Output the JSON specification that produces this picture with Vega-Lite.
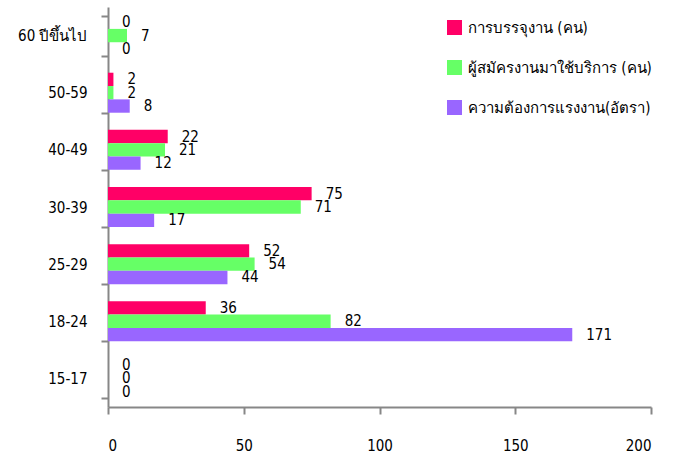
{
  "$schema": "https://vega.github.io/schema/vega-lite/v6.json",
  "width": 543,
  "height": 400,
  "autosize": "none",
  "padding": {"left": 108, "top": 7, "right": 30, "bottom": 50},
  "background": "white",
  "config": {
    "view": {"stroke": null},
    "font": "DejaVu Sans Condensed, DejaVu Sans",
    "axis": {"grid": false, "domainColor": "#878787", "tickColor": "#878787", "domainWidth": 2, "tickWidth": 2, "labelColor": "#000000", "labelFont": "DejaVu Sans Condensed, DejaVu Sans", "labelFontSize": 15, "tickSize": 7}
  },
  "data": {
    "values": [
      {"age": "60 ปีขึ้นไป", "series": "การบรรจุงาน (คน)", "value": 0},
      {"age": "60 ปีขึ้นไป", "series": "ผู้สมัครงานมาใช้บริการ (คน)", "value": 7},
      {"age": "60 ปีขึ้นไป", "series": "ความต้องการแรงงาน(อัตรา)", "value": 0},
      {"age": "50-59", "series": "การบรรจุงาน (คน)", "value": 2},
      {"age": "50-59", "series": "ผู้สมัครงานมาใช้บริการ (คน)", "value": 2},
      {"age": "50-59", "series": "ความต้องการแรงงาน(อัตรา)", "value": 8},
      {"age": "40-49", "series": "การบรรจุงาน (คน)", "value": 22},
      {"age": "40-49", "series": "ผู้สมัครงานมาใช้บริการ (คน)", "value": 21},
      {"age": "40-49", "series": "ความต้องการแรงงาน(อัตรา)", "value": 12},
      {"age": "30-39", "series": "การบรรจุงาน (คน)", "value": 75},
      {"age": "30-39", "series": "ผู้สมัครงานมาใช้บริการ (คน)", "value": 71},
      {"age": "30-39", "series": "ความต้องการแรงงาน(อัตรา)", "value": 17},
      {"age": "25-29", "series": "การบรรจุงาน (คน)", "value": 52},
      {"age": "25-29", "series": "ผู้สมัครงานมาใช้บริการ (คน)", "value": 54},
      {"age": "25-29", "series": "ความต้องการแรงงาน(อัตรา)", "value": 44},
      {"age": "18-24", "series": "การบรรจุงาน (คน)", "value": 36},
      {"age": "18-24", "series": "ผู้สมัครงานมาใช้บริการ (คน)", "value": 82},
      {"age": "18-24", "series": "ความต้องการแรงงาน(อัตรา)", "value": 171},
      {"age": "15-17", "series": "การบรรจุงาน (คน)", "value": 0},
      {"age": "15-17", "series": "ผู้สมัครงานมาใช้บริการ (คน)", "value": 0},
      {"age": "15-17", "series": "ความต้องการแรงงาน(อัตรา)", "value": 0}
    ]
  },
  "encoding": {
    "y": {
      "field": "age", "type": "nominal", "title": null,
      "sort": ["60 ปีขึ้นไป", "50-59", "40-49", "30-39", "25-29", "18-24", "15-17"],
      "scale": {"paddingInner": 0.3, "paddingOuter": 0.15},
      "axis": {"tickBand": "extent", "labelPadding": 14}
    },
    "yOffset": {
      "field": "series", "type": "nominal",
      "sort": ["การบรรจุงาน (คน)", "ผู้สมัครงานมาใช้บริการ (คน)", "ความต้องการแรงงาน(อัตรา)"]
    },
    "x": {
      "field": "value", "type": "quantitative", "title": null,
      "scale": {"domain": [0, 200]},
      "axis": {"values": [0, 50, 100, 150, 200], "labelPadding": 24}
    }
  },
  "layer": [
    {
      "mark": {"type": "bar"},
      "encoding": {
        "color": {
          "field": "series", "type": "nominal",
          "sort": ["การบรรจุงาน (คน)", "ผู้สมัครงานมาใช้บริการ (คน)", "ความต้องการแรงงาน(อัตรา)"],
          "scale": {"domain": ["การบรรจุงาน (คน)", "ผู้สมัครงานมาใช้บริการ (คน)", "ความต้องการแรงงาน(อัตรา)"], "range": ["#FF0066", "#66FF66", "#9966FF"]},
          "legend": {
            "title": null, "orient": "none", "legendX": 339, "legendY": 13,
            "symbolType": "square", "symbolSize": 225, "symbolStrokeWidth": 0, "symbolOpacity": 1,
            "labelFontSize": 15, "labelFont": "DejaVu Sans Condensed, DejaVu Sans", "labelColor": "#000000", "labelLimit": 0,
            "rowPadding": 24, "labelOffset": 6
          }
        }
      }
    },
    {
      "mark": {"type": "text", "align": "left", "dx": 14, "fontSize": 15, "font": "DejaVu Sans Condensed, DejaVu Sans", "color": "#000000"},
      "encoding": {"text": {"field": "value", "type": "quantitative"}}
    }
  ]
}
